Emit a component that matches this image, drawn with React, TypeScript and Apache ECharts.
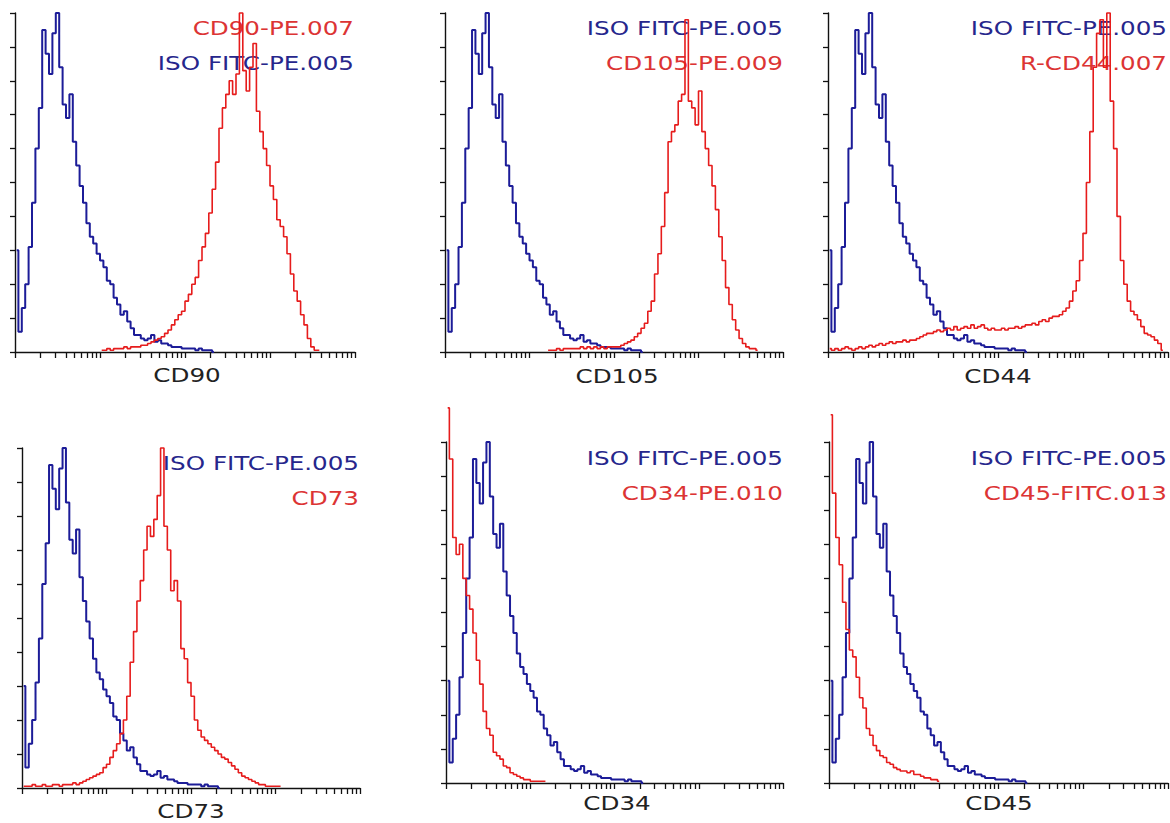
import React, { useEffect, useRef } from "react";
import * as echarts from "echarts";

// ---- data (channel counts, scaled so the top y tick = 100) ----
const CHANNELS = 100; // channels across the 4 log decades
const DECADES = 4;

const isoLabel = "ISO FITC-PE.005";
const markers = ["CD90", "CD105", "CD44", "CD73", "CD34", "CD45"];
const redLabels = ["CD90-PE.007", "CD105-PE.009", "R-CD44.007", "CD73", "CD34-PE.010", "CD45-FITC.013"];

const isoStart = 0;
const iso = [30, 6, 13, 20, 31, 44, 60, 72, 95, 88, 82, 94, 100, 84, 73, 69, 76, 62, 55, 49,
  44, 38, 34, 32, 29, 27, 25, 21, 20, 16, 14, 11, 12, 9, 7, 5, 5, 4, 3.5, 4,
  5, 3, 3.5, 2.5, 2.5, 2, 1.5, 1.5, 1.5, 1, 1, 1, 1, 0.5, 1, 0.5, 0.5, 0.5, 0];

const cd90Start = 25;
const cd90 = [0.5, 0.5, 1, 0.5, 1, 1, 1, 1.5, 1, 1.5, 1.5, 1.5, 2, 2, 2.5, 3, 3.5, 4, 4.5, 5.5,
  6.5, 8, 9.5, 11, 12, 15, 17, 20, 22, 27, 31, 35, 41, 48, 56, 66, 72, 76, 80, 76,
  82, 100, 83, 77, 84, 91, 71, 65, 60, 55, 49, 45, 39, 37, 34, 29, 23, 18, 15, 11,
  8, 4, 1.5, 0.5, 0.5];

const cd105Start = 30;
const cd105 = [0.5, 0.5, 0.5, 1, 0.5, 1, 1, 1, 1, 1, 1.5, 1, 1.5, 1, 1.5, 1, 1.5, 1, 1.5, 1.5,
  1.5, 1.5, 2, 2.5, 3, 3.5, 4.5, 5.5, 7, 8.5, 12, 15, 23, 29, 37, 47, 62, 65, 67, 74,
  76, 98, 74, 72, 67, 77, 65, 60, 55, 49, 42, 34, 27, 19, 14, 9.5, 6.5, 4, 2.5, 1.5,
  1, 1, 0.5];

const cd44Start = 0;
const cd44 = [1, 0.5, 1, 0.5, 1, 1.5, 1, 0.5, 1, 1.5, 1, 1.5, 2, 1.5, 2, 2.5, 2, 2.5, 3, 2.5,
  3, 3, 3.5, 3, 3.5, 3.5, 4, 4.5, 5, 5.5, 5.5, 6, 6.5, 6, 6.5, 7, 6.5, 7.5, 6.5, 7,
  7.5, 7, 8, 7, 7.5, 8, 7, 6.5, 7, 6.5, 6.5, 7, 6.5, 7, 7, 7.5, 7, 7.5, 8, 8,
  8.5, 8, 9, 9.5, 9, 10, 10.5, 10.5, 11, 12, 13, 15, 18, 21, 27, 35, 50, 65, 84, 94,
  98, 84, 100, 74, 60, 40, 27, 20, 15, 12, 11, 9.5, 7.5, 5.5, 5, 4.5, 3.5, 2.5, 0.5];

const cd73Start = 0;
const cd73 = [0.5, 0.5, 0.5, 1, 0.5, 0.5, 1, 0.5, 0.5, 1, 1, 0.5, 1, 1, 1, 1.5, 1, 1.5, 2, 2.5,
  3, 3.5, 4, 4.5, 6, 7, 9, 11, 13, 16, 20, 27, 37, 46, 55, 61, 70, 77, 74, 79,
  86, 100, 77, 70, 58, 61, 55, 41, 38, 31, 27, 20, 17, 15, 14, 13, 12, 11, 10, 9,
  8.5, 7.5, 6.5, 5.5, 4.5, 3.5, 3, 2.5, 2, 1.5, 1, 1, 0.5, 0.5, 0.5, 0.5, 0.5];

const cd34Start = 0;
const cd34 = [110, 95, 72, 67, 70, 60, 55, 51, 44, 36, 29, 21, 16, 14, 9, 8, 7, 5, 4.5, 3,
  2.5, 2, 1.5, 1, 1, 0.5, 0.5, 0.5, 0.5, 0.5];

const cd45Start = 0;
const cd45 = [108, 85, 72, 64, 53, 45, 39, 37, 31, 25, 22, 16, 14, 11, 9.5, 8, 7.5, 6, 5.5, 4.5,
  4, 3.5, 3.5, 3, 3.5, 2.5, 2.5, 2, 1.5, 1.5, 1, 1, 0.5];

// ---- layout / styles ----
const BLUE = "#1c1c98";
const RED = "#e61c1c";
const TEXT_BLUE = "#26268c";
const TEXT_RED = "#dc3434";
const FONT = "20px 'DejaVu Sans', Verdana, sans-serif";
const SX = 1.23;

const reds = [
  { data: cd90, start: cd90Start },
  { data: cd105, start: cd105Start },
  { data: cd44, start: cd44Start },
  { data: cd73, start: cd73Start },
  { data: cd34, start: cd34Start },
  { data: cd45, start: cd45Start },
];

const layout = [
  { grid: { left: 15, top: 13, width: 340, height: 339 }, right: 354, y1: 27.5, y2: 62.5, redFirst: true, nx: 187, ny: 375 },
  { grid: { left: 445, top: 13, width: 338, height: 339 }, right: 783, y1: 27.5, y2: 62.5, redFirst: false, nx: 617, ny: 376 },
  { grid: { left: 828, top: 13, width: 340, height: 339 }, right: 1167, y1: 28, y2: 62.5, redFirst: false, nx: 998, ny: 376 },
  { grid: { left: 22, top: 448, width: 338, height: 340 }, right: 359, y1: 462.5, y2: 497.5, redFirst: false, nx: 191, ny: 811 },
  { grid: { left: 446, top: 442, width: 337, height: 341 }, right: 783, y1: 457.5, y2: 492.5, redFirst: false, nx: 617, ny: 803 },
  { grid: { left: 829, top: 442, width: 339, height: 341 }, right: 1167, y1: 457.5, y2: 492.5, redFirst: false, nx: 999, ny: 803 },
];

function toPoints(arr: number[], start: number) {
  return arr.map((v, i) => [((start + i + 0.5) * DECADES) / CHANNELS, v]);
}

function logTicks() {
  const t: number[] = [];
  for (let d = 0; d < DECADES; d++) {
    for (let k = 1; k <= 9; k++) t.push(d + Math.log10(k));
  }
  t.push(DECADES);
  return t;
}

export default function App() {
  const ref = useRef<HTMLDivElement>(null);
  useEffect(() => {
    document.body.style.margin = "0";
    const chart = echarts.init(ref.current!, null, { renderer: "svg" });
    const ticks = logTicks();
    const grids: any[] = [];
    const xAxes: any[] = [];
    const yAxes: any[] = [];
    const series: any[] = [];
    const graphics: any[] = [];
    layout.forEach((p, idx) => {
      grids.push({ ...p.grid, containLabel: false });
      xAxes.push({
        type: "value",
        gridIndex: idx,
        min: 0,
        max: DECADES,
        axisLine: { show: true, onZero: false, lineStyle: { color: "#111", width: 1.4 } },
        axisTick: { show: true, customValues: ticks, length: 6, inside: false, lineStyle: { color: "#111", width: 1.3 } },
        axisLabel: { show: false },
        splitLine: { show: false },
      });
      yAxes.push({
        type: "value",
        gridIndex: idx,
        min: 0,
        max: 100,
        interval: 10,
        axisLine: { show: true, onZero: false, lineStyle: { color: "#111", width: 1.4 } },
        axisTick: { show: true, length: 5, lineStyle: { color: "#111", width: 1.3 } },
        axisLabel: { show: false },
        splitLine: { show: false },
      });
      const r = reds[idx];
      series.push({
        type: "line",
        xAxisIndex: idx,
        yAxisIndex: idx,
        step: "middle",
        symbol: "none",
        clip: false,
        z: 3,
        data: toPoints(iso, isoStart),
        lineStyle: { color: BLUE, width: 2 },
      });
      series.push({
        type: "line",
        xAxisIndex: idx,
        yAxisIndex: idx,
        step: "middle",
        symbol: "none",
        clip: false,
        z: 4,
        data: toPoints(r.data, r.start),
        lineStyle: { color: RED, width: 1.6 },
      });
      const first = p.redFirst ? { t: redLabels[idx], c: TEXT_RED } : { t: isoLabel, c: TEXT_BLUE };
      const second = p.redFirst ? { t: isoLabel, c: TEXT_BLUE } : { t: redLabels[idx], c: TEXT_RED };
      graphics.push({
        type: "text", x: p.right, y: p.y1, scaleX: SX, z: 1,
        style: { text: first.t, fill: first.c, font: FONT, align: "right", verticalAlign: "middle" },
      });
      graphics.push({
        type: "text", x: p.right, y: p.y2, scaleX: SX, z: 1,
        style: { text: second.t, fill: second.c, font: FONT, align: "right", verticalAlign: "middle" },
      });
      graphics.push({
        type: "text", x: p.nx, y: p.ny, scaleX: SX, z: 1,
        style: { text: markers[idx], fill: "#222", font: FONT, align: "center", verticalAlign: "middle" },
      });
    });
    chart.setOption({
      animation: false,
      backgroundColor: "#fff",
      grid: grids,
      xAxis: xAxes,
      yAxis: yAxes,
      series,
      graphic: { elements: graphics },
    });
    return () => chart.dispose();
  }, []);
  return <div ref={ref} style={{ width: 1170, height: 823 }} />;
}
